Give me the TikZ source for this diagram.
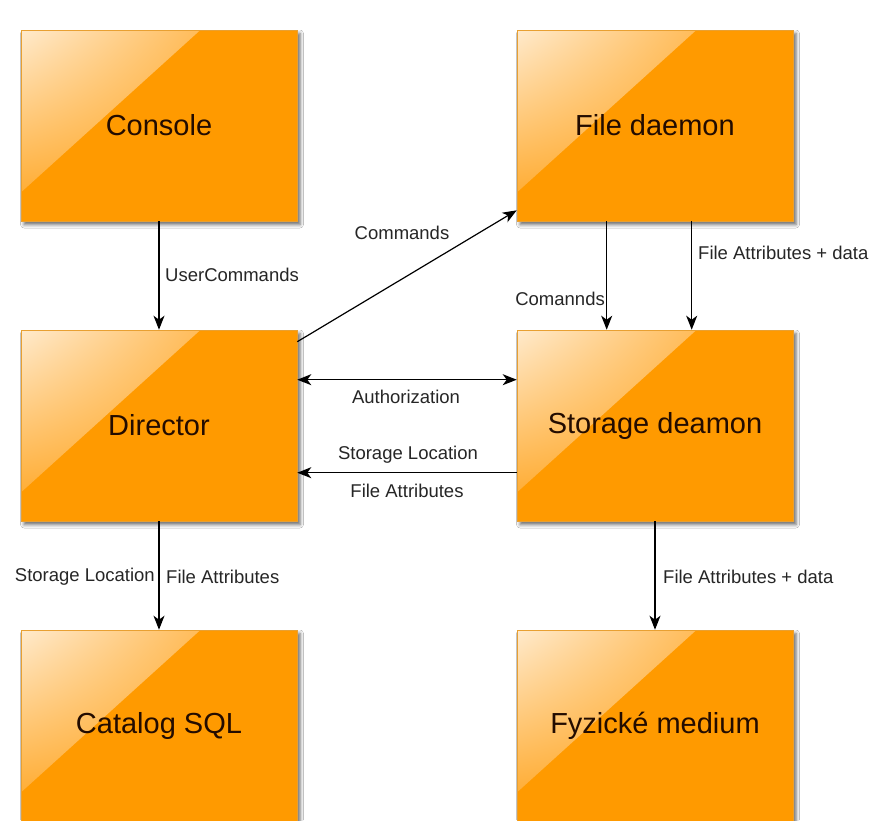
\documentclass[tikz,border=0pt]{standalone}
\usepackage{fontspec}
\setmainfont{Liberation Sans}
\usetikzlibrary{arrows.meta,calc,shadings,shadows.blur}
\definecolor{boxfill}{RGB}{255,154,0}
\definecolor{boxline}{RGB}{232,160,50}
\definecolor{glossA}{RGB}{255,234,204}
\definecolor{glossB}{RGB}{255,163,28}
\definecolor{boxtext}{RGB}{35,12,0}
\tikzset{
  box/.style={draw=boxline, line width=0.6pt, fill=boxfill,
    minimum width=276pt, minimum height=191pt, inner sep=0pt,
    font=\fontsize{29}{34}\selectfont, text=boxtext,
    blur shadow={shadow xshift=3pt, shadow yshift=-3.5pt, shadow blur radius=3.5pt, shadow opacity=60},
    path picture={
      \shade[upper left=glossA, upper right=glossB, lower left=glossB, lower right=glossB]
        (path picture bounding box.north west)
        -- ($(path picture bounding box.north west)!0.65!(path picture bounding box.north east)$)
        -- ($(path picture bounding box.north west)!0.85!(path picture bounding box.south west)$)
        -- cycle;
    }},
  tip/.style={Stealth[length=14pt,width=11pt,inset=4pt]},
  conn/.style={line width=1.2pt, -{Stealth[length=14pt,width=11pt,inset=4pt]}},
  biconn/.style={line width=1.2pt, {Stealth[length=14pt,width=11pt,inset=4pt]}-{Stealth[length=14pt,width=11pt,inset=4pt]}},
  lbl/.style={font=\fontsize{18.5}{22}\selectfont, inner sep=0pt, text=black!85}
}
\begin{document}
\begin{tikzpicture}[x=1pt, y=-1pt]
\useasboundingbox (0,0) rectangle (870,820);
\fill[white] (0,0) rectangle (870,820);

\node[box] (console)  at (159,125.5) {Console};
\node[box] (fd)       at (655,125.5) {File daemon};
\node[box] (director) at (159,425.5) {Director};
\node[box] (sd)       at (655,425.5) {Storage deamon};
\node[box] (catalog)  at (159,725.5) {Catalog SQL};
\node[box] (fyz)      at (655,725.5) {Fyzické medium};

\draw[conn] (console.south) -- (director.north);
\draw[conn] ($(director.north east)+(0,12)$) -- ($(fd.south west)+(0,-11)$);
\draw[biconn] ($(director.north east)+(0,50)$) -- ($(sd.north west)+(0,50)$);
\draw[conn] ($(sd.north west)+(0,143)$) -- ($(director.north east)+(0,143)$);
\draw[conn] ($(fd.south west)+(90,0)$) -- ($(sd.north west)+(90,0)$);
\draw[conn] ($(fd.south west)+(175,0)$) -- ($(sd.north west)+(175,0)$);
\draw[conn] (director.south) -- (catalog.north);
\draw[conn] (sd.south) -- (fyz.north);

\node[lbl, anchor=west] (l1) at (165,275) {UserCommands};
\node[lbl] (l2) at (402,233) {Commands};
\node[lbl] (l3) at (406,397) {Authorization};
\node[lbl] (l4) at (408,455) {Storage Location};
\node[lbl] (l5) at (407,491) {File Attributes};
\node[lbl, anchor=east] (l6) at (605,299) {Comannds};
\node[lbl, anchor=west] (l7) at (698,253) {File Attributes + data};
\node[lbl, anchor=east] (l8) at (155,577) {Storage Location};
\node[lbl, anchor=west] (l9) at (166,577) {File Attributes};
\node[lbl, anchor=west] (l10) at (663,577) {File Attributes + data};
\end{tikzpicture}
\end{document}
